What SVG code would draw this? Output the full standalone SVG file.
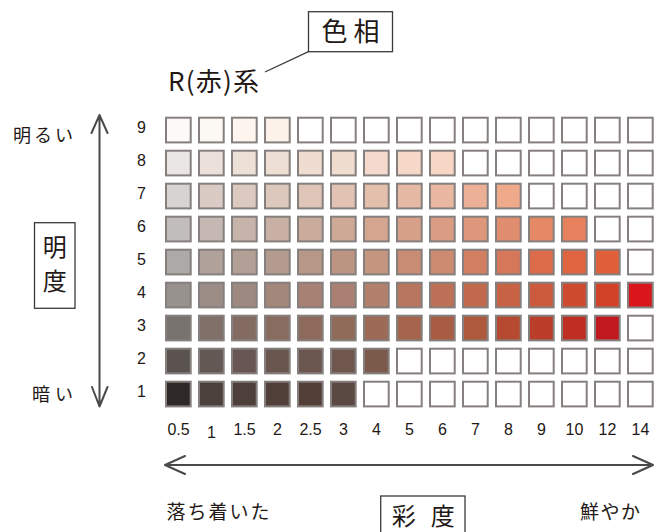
<svg xmlns="http://www.w3.org/2000/svg" width="661" height="532" viewBox="0 0 661 532">
<style>
.jp{font-family:"Noto Sans CJK JP","Noto Sans",sans-serif;fill:#231815}
.num{font-family:"Liberation Sans","Noto Sans",sans-serif;font-size:16px;fill:#231815;text-anchor:middle}
.box{fill:#fff;stroke:#3a3a3a;stroke-width:1.3}
.ax{fill:none;stroke:#4a4a4a;stroke-width:2;stroke-linecap:round;stroke-linejoin:round}
.c rect{stroke:#857f7e;stroke-width:2}
</style>
<rect width="661" height="532" fill="#fff"/>

<g id="hue-label">
  <rect class="box" x="308.5" y="11.7" width="84" height="40"/>
  <text class="jp" x="350.5" y="41" font-size="26" text-anchor="middle" textLength="58" lengthAdjust="spacing">色相</text>
  <line x1="265" y1="72" x2="308.5" y2="51.7" stroke="#3a3a3a" stroke-width="1.3"/>
  <text class="jp" x="168" y="91" font-size="26" textLength="91" lengthAdjust="spacing">R(赤)系</text>
</g>

<g id="value-label">
  <rect class="box" x="34.5" y="222.7" width="40.5" height="85.6"/>
  <text class="jp" x="54.8" y="256" font-size="24" text-anchor="middle">明</text>
  <text class="jp" x="54.8" y="290" font-size="24" text-anchor="middle">度</text>
  <text class="jp" x="73" y="141.5" font-size="18" text-anchor="end" textLength="60" lengthAdjust="spacing">明るい</text>
  <text class="jp" x="73" y="400.5" font-size="18" text-anchor="end" textLength="41" lengthAdjust="spacing">暗い</text>
</g>

<g id="chroma-label">
  <rect class="box" x="380.7" y="496" width="84.3" height="45"/>
  <text class="jp" x="423.3" y="525" font-size="24" text-anchor="middle" textLength="63" lengthAdjust="spacing">彩度</text>
  <text class="jp" x="166.5" y="519" font-size="19" textLength="103" lengthAdjust="spacing">落ち着いた</text>
  <text class="jp" x="580" y="519" font-size="19" textLength="60" lengthAdjust="spacing">鮮やか</text>
</g>

<g id="axes">
  <path class="ax" d="M99.5 115 V406.5 M91.5 133 L99.5 115 L107.5 133 M92 387 L99.5 406.5 L107.5 387"/>
  <path class="ax" d="M165 465 H653 M185 456 L165 465 L185 474 M633 456 L653 465 L633 474"/>
</g>

<g id="value-numbers">
  <text class="num" x="141.5" y="132.5">9</text>
  <text class="num" x="141.5" y="165.5">8</text>
  <text class="num" x="141.5" y="198.5">7</text>
  <text class="num" x="141.5" y="231.5">6</text>
  <text class="num" x="141.5" y="264.5">5</text>
  <text class="num" x="141.5" y="297.5">4</text>
  <text class="num" x="141.5" y="330.5">3</text>
  <text class="num" x="141.5" y="363.5">2</text>
  <text class="num" x="141.5" y="396.5">1</text>
</g>

<g id="chroma-numbers">
  <text class="num" x="178.5" y="435">0.5</text>
  <text class="num" x="211.5" y="438">1</text>
  <text class="num" x="244.5" y="435">1.5</text>
  <text class="num" x="277.5" y="435">2</text>
  <text class="num" x="310.5" y="435">2.5</text>
  <text class="num" x="343.5" y="435">3</text>
  <text class="num" x="376.5" y="435">4</text>
  <text class="num" x="409.5" y="435">5</text>
  <text class="num" x="442.5" y="435">6</text>
  <text class="num" x="475.5" y="435">7</text>
  <text class="num" x="508.5" y="435">8</text>
  <text class="num" x="541.5" y="435">9</text>
  <text class="num" x="574.5" y="435">10</text>
  <text class="num" x="607.5" y="435">12</text>
  <text class="num" x="640.5" y="435">14</text>
</g>

<g id="row-9" class="c">
  <rect x="166" y="117.7" width="24.7" height="24.7" fill="#fdfbf9"/>
  <rect x="199" y="117.7" width="24.7" height="24.7" fill="#fcf8f3"/>
  <rect x="232" y="117.7" width="24.7" height="24.7" fill="#fdf5ee"/>
  <rect x="265" y="117.7" width="24.7" height="24.7" fill="#fdf2ea"/>
  <rect x="298" y="117.7" width="24.7" height="24.7" fill="#fff"/>
  <rect x="331" y="117.7" width="24.7" height="24.7" fill="#fff"/>
  <rect x="364" y="117.7" width="24.7" height="24.7" fill="#fff"/>
  <rect x="397" y="117.7" width="24.7" height="24.7" fill="#fff"/>
  <rect x="430" y="117.7" width="24.7" height="24.7" fill="#fff"/>
  <rect x="463" y="117.7" width="24.7" height="24.7" fill="#fff"/>
  <rect x="496" y="117.7" width="24.7" height="24.7" fill="#fff"/>
  <rect x="529" y="117.7" width="24.7" height="24.7" fill="#fff"/>
  <rect x="562" y="117.7" width="24.7" height="24.7" fill="#fff"/>
  <rect x="595" y="117.7" width="24.7" height="24.7" fill="#fff"/>
  <rect x="628" y="117.7" width="24.7" height="24.7" fill="#fff"/>
</g>
<g id="row-8" class="c">
  <rect x="166" y="150.7" width="24.7" height="24.7" fill="#e9e6e4"/>
  <rect x="199" y="150.7" width="24.7" height="24.7" fill="#ebe1da"/>
  <rect x="232" y="150.7" width="24.7" height="24.7" fill="#ede0d7"/>
  <rect x="265" y="150.7" width="24.7" height="24.7" fill="#eedfd5"/>
  <rect x="298" y="150.7" width="24.7" height="24.7" fill="#f0ddd2"/>
  <rect x="331" y="150.7" width="24.7" height="24.7" fill="#f1dcd0"/>
  <rect x="364" y="150.7" width="24.7" height="24.7" fill="#f4d9cc"/>
  <rect x="397" y="150.7" width="24.7" height="24.7" fill="#f6d8c8"/>
  <rect x="430" y="150.7" width="24.7" height="24.7" fill="#f7d6c5"/>
  <rect x="463" y="150.7" width="24.7" height="24.7" fill="#fff"/>
  <rect x="496" y="150.7" width="24.7" height="24.7" fill="#fff"/>
  <rect x="529" y="150.7" width="24.7" height="24.7" fill="#fff"/>
  <rect x="562" y="150.7" width="24.7" height="24.7" fill="#fff"/>
  <rect x="595" y="150.7" width="24.7" height="24.7" fill="#fff"/>
  <rect x="628" y="150.7" width="24.7" height="24.7" fill="#fff"/>
</g>
<g id="row-7" class="c">
  <rect x="166" y="183.7" width="24.7" height="24.7" fill="#d6d3d0"/>
  <rect x="199" y="183.7" width="24.7" height="24.7" fill="#daccc5"/>
  <rect x="232" y="183.7" width="24.7" height="24.7" fill="#dcc9c0"/>
  <rect x="265" y="183.7" width="24.7" height="24.7" fill="#ddc8bd"/>
  <rect x="298" y="183.7" width="24.7" height="24.7" fill="#dfc5b8"/>
  <rect x="331" y="183.7" width="24.7" height="24.7" fill="#e1c2b3"/>
  <rect x="364" y="183.7" width="24.7" height="24.7" fill="#e3bfac"/>
  <rect x="397" y="183.7" width="24.7" height="24.7" fill="#e6b9a4"/>
  <rect x="430" y="183.7" width="24.7" height="24.7" fill="#eab8a0"/>
  <rect x="463" y="183.7" width="24.7" height="24.7" fill="#ecb096"/>
  <rect x="496" y="183.7" width="24.7" height="24.7" fill="#eeaa8b"/>
  <rect x="529" y="183.7" width="24.7" height="24.7" fill="#fff"/>
  <rect x="562" y="183.7" width="24.7" height="24.7" fill="#fff"/>
  <rect x="595" y="183.7" width="24.7" height="24.7" fill="#fff"/>
  <rect x="628" y="183.7" width="24.7" height="24.7" fill="#fff"/>
</g>
<g id="row-6" class="c">
  <rect x="166" y="216.7" width="24.7" height="24.7" fill="#c1bdba"/>
  <rect x="199" y="216.7" width="24.7" height="24.7" fill="#c5b8b2"/>
  <rect x="232" y="216.7" width="24.7" height="24.7" fill="#c6b3a9"/>
  <rect x="265" y="216.7" width="24.7" height="24.7" fill="#c8b0a4"/>
  <rect x="298" y="216.7" width="24.7" height="24.7" fill="#cbab9c"/>
  <rect x="331" y="216.7" width="24.7" height="24.7" fill="#cea996"/>
  <rect x="364" y="216.7" width="24.7" height="24.7" fill="#d4a68f"/>
  <rect x="397" y="216.7" width="24.7" height="24.7" fill="#d7a189"/>
  <rect x="430" y="216.7" width="24.7" height="24.7" fill="#da9c82"/>
  <rect x="463" y="216.7" width="24.7" height="24.7" fill="#dd977b"/>
  <rect x="496" y="216.7" width="24.7" height="24.7" fill="#e08e6f"/>
  <rect x="529" y="216.7" width="24.7" height="24.7" fill="#e48865"/>
  <rect x="562" y="216.7" width="24.7" height="24.7" fill="#e6805d"/>
  <rect x="595" y="216.7" width="24.7" height="24.7" fill="#fff"/>
  <rect x="628" y="216.7" width="24.7" height="24.7" fill="#fff"/>
</g>
<g id="row-5" class="c">
  <rect x="166" y="249.7" width="24.7" height="24.7" fill="#abaaa6"/>
  <rect x="199" y="249.7" width="24.7" height="24.7" fill="#b0a29b"/>
  <rect x="232" y="249.7" width="24.7" height="24.7" fill="#b29f95"/>
  <rect x="265" y="249.7" width="24.7" height="24.7" fill="#b49b8f"/>
  <rect x="298" y="249.7" width="24.7" height="24.7" fill="#b79786"/>
  <rect x="331" y="249.7" width="24.7" height="24.7" fill="#bb9482"/>
  <rect x="364" y="249.7" width="24.7" height="24.7" fill="#c5967f"/>
  <rect x="397" y="249.7" width="24.7" height="24.7" fill="#c88c74"/>
  <rect x="430" y="249.7" width="24.7" height="24.7" fill="#cc8a70"/>
  <rect x="463" y="249.7" width="24.7" height="24.7" fill="#d27e60"/>
  <rect x="496" y="249.7" width="24.7" height="24.7" fill="#d7775a"/>
  <rect x="529" y="249.7" width="24.7" height="24.7" fill="#dc6c49"/>
  <rect x="562" y="249.7" width="24.7" height="24.7" fill="#de6540"/>
  <rect x="595" y="249.7" width="24.7" height="24.7" fill="#e0603a"/>
  <rect x="628" y="249.7" width="24.7" height="24.7" fill="#fff"/>
</g>
<g id="row-4" class="c">
  <rect x="166" y="282.7" width="24.7" height="24.7" fill="#97928e"/>
  <rect x="199" y="282.7" width="24.7" height="24.7" fill="#9b8d86"/>
  <rect x="232" y="282.7" width="24.7" height="24.7" fill="#9e8980"/>
  <rect x="265" y="282.7" width="24.7" height="24.7" fill="#a2877a"/>
  <rect x="298" y="282.7" width="24.7" height="24.7" fill="#a78173"/>
  <rect x="331" y="282.7" width="24.7" height="24.7" fill="#aa8072"/>
  <rect x="364" y="282.7" width="24.7" height="24.7" fill="#b3806d"/>
  <rect x="397" y="282.7" width="24.7" height="24.7" fill="#b9765f"/>
  <rect x="430" y="282.7" width="24.7" height="24.7" fill="#bc7056"/>
  <rect x="463" y="282.7" width="24.7" height="24.7" fill="#c0694d"/>
  <rect x="496" y="282.7" width="24.7" height="24.7" fill="#c86244"/>
  <rect x="529" y="282.7" width="24.7" height="24.7" fill="#cc5a3c"/>
  <rect x="562" y="282.7" width="24.7" height="24.7" fill="#ce4a2f"/>
  <rect x="595" y="282.7" width="24.7" height="24.7" fill="#d24226"/>
  <rect x="628" y="282.7" width="24.7" height="24.7" fill="#d8161b"/>
</g>
<g id="row-3" class="c">
  <rect x="166" y="315.7" width="24.7" height="24.7" fill="#77726e"/>
  <rect x="199" y="315.7" width="24.7" height="24.7" fill="#817069"/>
  <rect x="232" y="315.7" width="24.7" height="24.7" fill="#846b62"/>
  <rect x="265" y="315.7" width="24.7" height="24.7" fill="#886c60"/>
  <rect x="298" y="315.7" width="24.7" height="24.7" fill="#8d6a5b"/>
  <rect x="331" y="315.7" width="24.7" height="24.7" fill="#906b5a"/>
  <rect x="364" y="315.7" width="24.7" height="24.7" fill="#9c6a57"/>
  <rect x="397" y="315.7" width="24.7" height="24.7" fill="#a5644b"/>
  <rect x="430" y="315.7" width="24.7" height="24.7" fill="#a85c43"/>
  <rect x="463" y="315.7" width="24.7" height="24.7" fill="#ae583c"/>
  <rect x="496" y="315.7" width="24.7" height="24.7" fill="#b54a30"/>
  <rect x="529" y="315.7" width="24.7" height="24.7" fill="#ba3e28"/>
  <rect x="562" y="315.7" width="24.7" height="24.7" fill="#be2e22"/>
  <rect x="595" y="315.7" width="24.7" height="24.7" fill="#c2181f"/>
  <rect x="628" y="315.7" width="24.7" height="24.7" fill="#fff"/>
</g>
<g id="row-2" class="c">
  <rect x="166" y="348.7" width="24.7" height="24.7" fill="#5a5350"/>
  <rect x="199" y="348.7" width="24.7" height="24.7" fill="#645854"/>
  <rect x="232" y="348.7" width="24.7" height="24.7" fill="#675651"/>
  <rect x="265" y="348.7" width="24.7" height="24.7" fill="#69574f"/>
  <rect x="298" y="348.7" width="24.7" height="24.7" fill="#6b574f"/>
  <rect x="331" y="348.7" width="24.7" height="24.7" fill="#70574d"/>
  <rect x="364" y="348.7" width="24.7" height="24.7" fill="#7b5a4b"/>
  <rect x="397" y="348.7" width="24.7" height="24.7" fill="#fff"/>
  <rect x="430" y="348.7" width="24.7" height="24.7" fill="#fff"/>
  <rect x="463" y="348.7" width="24.7" height="24.7" fill="#fff"/>
  <rect x="496" y="348.7" width="24.7" height="24.7" fill="#fff"/>
  <rect x="529" y="348.7" width="24.7" height="24.7" fill="#fff"/>
  <rect x="562" y="348.7" width="24.7" height="24.7" fill="#fff"/>
  <rect x="595" y="348.7" width="24.7" height="24.7" fill="#fff"/>
  <rect x="628" y="348.7" width="24.7" height="24.7" fill="#fff"/>
</g>
<g id="row-1" class="c">
  <rect x="166" y="381.7" width="24.7" height="24.7" fill="#2e2927"/>
  <rect x="199" y="381.7" width="24.7" height="24.7" fill="#4b403c"/>
  <rect x="232" y="381.7" width="24.7" height="24.7" fill="#4f3f3a"/>
  <rect x="265" y="381.7" width="24.7" height="24.7" fill="#514039"/>
  <rect x="298" y="381.7" width="24.7" height="24.7" fill="#524038"/>
  <rect x="331" y="381.7" width="24.7" height="24.7" fill="#5a4942"/>
  <rect x="364" y="381.7" width="24.7" height="24.7" fill="#fff"/>
  <rect x="397" y="381.7" width="24.7" height="24.7" fill="#fff"/>
  <rect x="430" y="381.7" width="24.7" height="24.7" fill="#fff"/>
  <rect x="463" y="381.7" width="24.7" height="24.7" fill="#fff"/>
  <rect x="496" y="381.7" width="24.7" height="24.7" fill="#fff"/>
  <rect x="529" y="381.7" width="24.7" height="24.7" fill="#fff"/>
  <rect x="562" y="381.7" width="24.7" height="24.7" fill="#fff"/>
  <rect x="595" y="381.7" width="24.7" height="24.7" fill="#fff"/>
  <rect x="628" y="381.7" width="24.7" height="24.7" fill="#fff"/>
</g>
</svg>
